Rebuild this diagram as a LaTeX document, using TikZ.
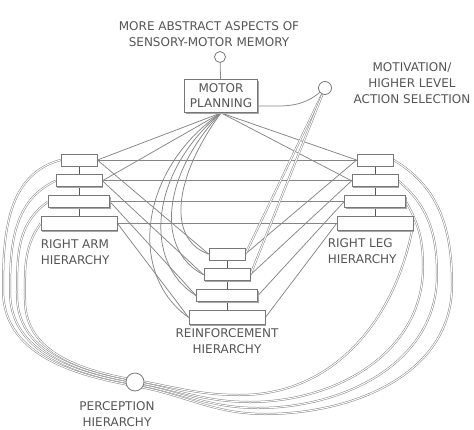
\documentclass[tikz,border=0pt]{standalone}
\usepackage{fontspec}
\setmainfont{DejaVu Sans}
\usetikzlibrary{positioning,shadows,backgrounds}
\definecolor{wiregray}{HTML}{858585}
\definecolor{boxgray}{HTML}{787878}
\definecolor{textgray}{HTML}{555555}
\tikzset{
  block/.style={
    draw=boxgray,
    fill=white,
    rectangle,
    minimum height=12pt,
    inner sep=0pt,
    line width=0.8pt,
    drop shadow={shadow xshift=1.2pt,shadow yshift=-1.2pt,fill=black!35,opacity=1}
  },
  plan/.style={
    draw=boxgray,
    fill=white,
    rectangle,
    minimum height=33pt,
    minimum width=73pt,
    align=center,
    text=textgray,
    font=\fontsize{12}{15}\selectfont,
    line width=0.8pt,
    drop shadow={shadow xshift=1.2pt,shadow yshift=-1.2pt,fill=black!35,opacity=1}
  },
  port/.style={draw=boxgray,fill=white,circle,inner sep=0pt,line width=0.8pt},
  wire/.style={draw=wiregray,line width=0.75pt},
  cable/.style={draw=wiregray,line width=0.5pt,double=white,double distance=1pt},
  stem/.style={draw=black!65,line width=0.7pt},
  caption/.style={text=textgray,align=center,inner sep=0pt,font=\fontsize{12}{16}\selectfont}
}

\begin{document}
\begin{tikzpicture}[x=1pt,y=1pt]
\useasboundingbox (0,0) rectangle (474,-429);

% motor planning and its inputs
\node[plan] (motor_planning) at (221,-96) {MOTOR\\PLANNING};
\node[port, minimum size=11pt] (memory_port) at (220,-57) {};
\node[caption] (memory_text) at (209,-34) {MORE ABSTRACT ASPECTS OF\\SENSORY-MOTOR MEMORY};
\node[port, minimum size=13pt] (motive_port) at (325,-88) {};
\node[caption] (motive_text) at (412,-83) {MOTIVATION/\\HIGHER LEVEL\\ACTION SELECTION};

% right arm
\node[block, minimum width=36pt] (arm_1) at (79,-160) {};
\node[block, minimum width=46pt, below = 8pt of arm_1] (arm_2) {};
\node[block, minimum width=61pt, below = 8pt of arm_2] (arm_3) {};
\node[block, minimum width=76pt, minimum height=14pt, below = 8pt of arm_3] (arm_4) {};
\node[caption, align=left, anchor=north west] (arm_text) at ([yshift=-9pt]arm_4.south west) {RIGHT ARM\\HIERARCHY};

% right leg
\node[block, minimum width=36pt] (leg_1) at (375,-160) {};
\node[block, minimum width=46pt, below = 8pt of leg_1] (leg_2) {};
\node[block, minimum width=61pt, below = 8pt of leg_2] (leg_3) {};
\node[block, minimum width=76pt, minimum height=14pt, below = 8pt of leg_3] (leg_4) {};
\node[caption, align=left, anchor=north west] (leg_text) at ([xshift=-9pt,yshift=-8pt]leg_4.south west) {RIGHT LEG\\HIERARCHY};

% reinforcement
\node[block, minimum width=36pt] (reinf_1) at (227,-254) {};
\node[block, minimum width=46pt, below = 8pt of reinf_1] (reinf_2) {};
\node[block, minimum width=61pt, below = 8pt of reinf_2] (reinf_3) {};
\node[block, minimum width=76pt, minimum height=14pt, below = 8pt of reinf_3] (reinf_4) {};
\node[caption, below = 4pt of reinf_4] (reinf_text) {REINFORCEMENT\\HIERARCHY};

% perception
\node[port, minimum size=18pt] (perception_port) at (135,-382) {};
\node[caption] (perception_text) at (117,-414) {PERCEPTION\\HIERARCHY};

\begin{pgfonlayer}{background}
  \draw[wire] (memory_port) -- (motor_planning);
  \draw[wire] ([yshift=-10pt]motor_planning.east) to[out=0,in=220] (motive_port);

  % stems
  \draw[stem] (arm_1.south) -- (arm_2.north);
  \draw[stem] (arm_2.south) -- (arm_3.north);
  \draw[stem] (arm_3.south) -- (arm_4.north);
  \draw[stem] (leg_1.south) -- (leg_2.north);
  \draw[stem] (leg_2.south) -- (leg_3.north);
  \draw[stem] (leg_3.south) -- (leg_4.north);
  \draw[stem] (reinf_1.south) -- (reinf_2.north);
  \draw[stem] (reinf_2.south) -- (reinf_3.north);
  \draw[stem] (reinf_3.south) -- (reinf_4.north);

  % arm to leg
  \draw[wire] (arm_1.east) -- (leg_1.west);
  \draw[wire] (arm_2.east) -- (leg_2.west);
  \draw[wire] (arm_3.east) -- (leg_3.west);
  \draw[wire] (arm_4.east) -- (leg_4.west);

  % planning to limbs
  \draw[wire] (motor_planning.south) -- (arm_1.east);
  \draw[wire] (motor_planning.south) -- (arm_2.east);
  \draw[wire] (motor_planning.south) -- (leg_1.west);
  \draw[wire] (motor_planning.south) -- (leg_2.west);

  % limbs to reinforcement
  \draw[wire] (arm_1.east) -- (reinf_1.west);
  \draw[wire] (arm_2.east) -- (reinf_2.west);
  \draw[wire] (arm_3.east) -- (reinf_3.west);
  \draw[wire] (arm_4.east) -- (reinf_4.west);
  \draw[wire] (leg_1.west) -- (reinf_1.east);
  \draw[wire] (leg_2.west) -- (reinf_2.east);
  \draw[wire] (leg_3.west) -- (reinf_3.east);
  \draw[wire] (leg_4.west) -- (reinf_4.east);

  % planning to reinforcement
  \draw[wire] (motor_planning.south) .. controls (172,-180) and (168,-240) .. (reinf_1.west);
  \draw[wire] (motor_planning.south) .. controls (162,-175) and (155,-250) .. (reinf_2.west);
  \draw[wire] (motor_planning.south) .. controls (150,-172) and (142,-262) .. (reinf_3.west);
  \draw[wire] (motor_planning.south) .. controls (138,-170) and (128,-275) .. (reinf_4.west);

  % motivation
  \draw[cable] (motive_port) -- (reinf_1.east);
  \draw[cable] (motive_port) -- (reinf_2.east);

  % perception loops
  \draw[cable] (arm_1.west) to[out=195,in=90] (3,-290) to[out=-90,in=170] (135,-386)
    to[out=-10,in=180] (265,-414) to[out=0,in=-90] (452,-285) to[out=90,in=-30] (leg_1.east);
  \draw[cable] (arm_2.west) to[out=205,in=90] (10,-292) to[out=-90,in=170] (135,-384)
    to[out=-10,in=180] (258,-408) to[out=0,in=-90] (437,-275) to[out=90,in=-40] (leg_2.east);
  \draw[cable] (arm_3.west) to[out=215,in=90] (17,-295) to[out=-90,in=170] (135,-382)
    to[out=-10,in=180] (250,-402) to[out=0,in=-90] (423,-267) to[out=90,in=-60] (leg_3.east);
  \draw[cable] (arm_4.west) to[out=235,in=90] (25,-300) to[out=-90,in=170] (135,-380)
    to[out=-10,in=180] (240,-395) to[out=0,in=-100] (leg_4.east);
\end{pgfonlayer}

\end{tikzpicture}
\end{document}
